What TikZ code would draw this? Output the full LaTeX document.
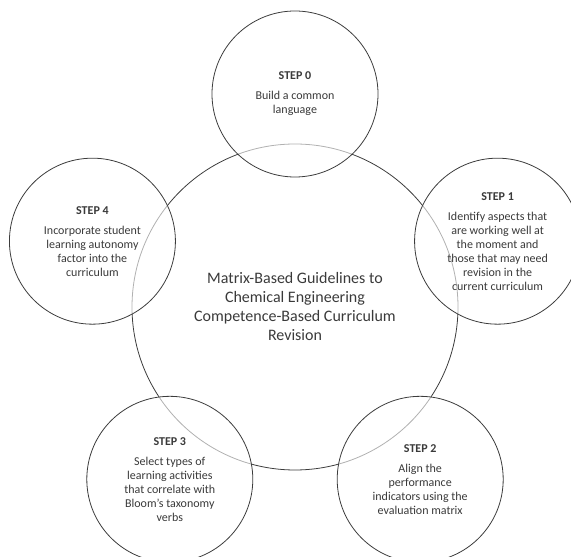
\documentclass[tikz,border=0pt]{standalone}
\usepackage{fontspec}
\setmainfont{Carlito}
\definecolor{ringline}{HTML}{3C3C3C}
\definecolor{ringtext}{HTML}{3A3A3A}

\begin{document}
\begin{tikzpicture}[x=1pt,y=1pt,
 hubcircle/.style={circle,draw=ringline,line width=0.8pt,minimum size=326pt,inner sep=0pt,
  align=center,text=ringtext,font=\fontsize{16}{19}\selectfont},
 stepcircle/.style={circle,draw=ringline,line width=0.8pt,fill=white,fill opacity=0.6,
  text opacity=1,minimum size=166pt,inner sep=0pt,align=center,text=ringtext,
  font=\fontsize{12}{14}\selectfont}]
\useasboundingbox (0,0) rectangle (571,557);
\clip (0,0) rectangle (571,557);
\node[hubcircle] (hub) at (295,250)
 {Matrix-Based Guidelines to\\Chemical Engineering\\Competence-Based Curriculum\\Revision};
\foreach \i/\ang/\txt in {
 0/90/{Build a common\\language},
 1/18/{Identify aspects that\\are working well at\\the moment and\\those that may need\\revision in the\\current curriculum},
 2/-54/{Align the\\performance\\indicators using the\\evaluation matrix},
 3/-126/{Select types of\\learning activities\\that correlate with\\Bloom's taxonomy\\verbs},
 4/162/{Incorporate student\\learning autonomy\\factor into the\\curriculum}}
 {\node[stepcircle] (step\i) at ([shift={(\ang:213)}]hub.center) {\textbf{STEP \i}\\[6pt]\txt};}
\end{tikzpicture}
\end{document}
